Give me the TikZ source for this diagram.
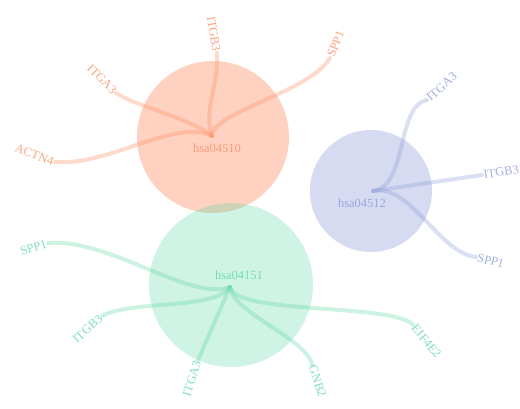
\documentclass[tikz,border=0pt]{standalone}
\usepackage{tikz}
\usepackage{fontspec}
\setmainfont{Liberation Serif}
\definecolor{orangeset}{RGB}{252,141,98}
\definecolor{blueset}{RGB}{140,155,215}
\definecolor{greenset}{RGB}{95,215,165}
\begin{document}
\begin{tikzpicture}[x=1pt, y=-1pt,
        pathway/.style={circle, inner sep=0pt, fill opacity=0.4},
        hubtext/.style={font=\fontsize{12.5}{14}\selectfont, text opacity=0.8},
        gene/.style={font=\fontsize{12.5}{14}\selectfont, inner sep=1.5pt, text opacity=0.8},
        link/.style={line width=4pt, draw opacity=0.32, line cap=round}]
        \useasboundingbox (0,0) rectangle (520,408);

        % Pathway circles
        \node[pathway, fill=orangeset, minimum size=152pt] (p04510) at (213,137) {};
        \node[pathway, fill=blueset, minimum size=122pt, fill opacity=0.36] (p04512) at (371,191) {};
        \node[pathway, fill=greenset, minimum size=164pt, fill opacity=0.3] (p04151) at (231,285) {};

        % Hubs
        \coordinate (hubA) at (212,136);
        \coordinate (hubB) at (373,191);
        \coordinate (hubC) at (230,287);
        \node[hubtext, text=orangeset] (txtA) at (217,148) {hsa04510};
        \node[hubtext, text=blueset] (txtB) at (362,203) {hsa04512};
        \node[hubtext, text=greenset] (txtC) at (239,275) {hsa04151};

        % hsa04510 genes
        \node[gene, text=orangeset, anchor=east, rotate=-80] (a-itgb3) at (217,53) {ITGB3};
        \node[gene, text=orangeset, anchor=west, rotate=68] (a-spp1) at (330,58) {SPP1};
        \node[gene, text=orangeset, anchor=east, rotate=-45] (a-itga3) at (116,93) {ITGA3};
        \node[gene, text=orangeset, anchor=east, rotate=-20] (a-actn4) at (55,162) {ACTN4};

        % hsa04512 genes
        \node[gene, text=blueset, anchor=west, rotate=42] (b-itga3) at (427,100) {ITGA3};
        \node[gene, text=blueset, anchor=west, rotate=9] (b-itgb3) at (482,175) {ITGB3};
        \node[gene, text=blueset, anchor=west, rotate=-15] (b-spp1) at (476,257) {SPP1};

        % hsa04151 genes
        \node[gene, text=greenset, anchor=east, rotate=18] (c-spp1) at (48,243) {SPP1};
        \node[gene, text=greenset, anchor=east, rotate=42] (c-itgb3) at (102,316) {ITGB3};
        \node[gene, text=greenset, anchor=east, rotate=72] (c-itga3) at (198,360) {ITGA3};
        \node[gene, text=greenset, anchor=west, rotate=-72] (c-gnb2) at (312,364) {GNB2};
        \node[gene, text=greenset, anchor=west, rotate=-50] (c-eif4e2) at (413,325) {EIF4E2};

        % Links
        \draw[link, orangeset] (hubA) .. controls (203,110) and (219,85) .. (a-itgb3.east);
        \draw[link, orangeset] (hubA) .. controls (212,112) and (310,92) .. (a-spp1.west);
        \draw[link, orangeset] (hubA) .. controls (190,118) and (135,106) .. (a-itga3.east);
        \draw[link, orangeset] (hubA) .. controls (175,118) and (110,166) .. (a-actn4.east);
        \draw[link, blueset] (hubB) .. controls (408,186) and (396,106) .. (b-itga3.west);
        \draw[link, blueset] (hubB) -- (b-itgb3.west);
        \draw[link, blueset] (hubB) .. controls (410,183) and (440,254) .. (b-spp1.west);
        \draw[link, greenset] (hubC) .. controls (190,302) and (110,238) .. (c-spp1.east);
        \draw[link, greenset] (hubC) .. controls (216,310) and (130,300) .. (c-itgb3.east);
        \draw[link, greenset] (hubC) -- (c-itga3.east);
        \draw[link, greenset] (hubC) .. controls (232,312) and (305,338) .. (c-gnb2.west);
        \draw[link, greenset] (hubC) .. controls (235,315) and (395,303) .. (c-eif4e2.west);

    \end{tikzpicture}
\end{document}
